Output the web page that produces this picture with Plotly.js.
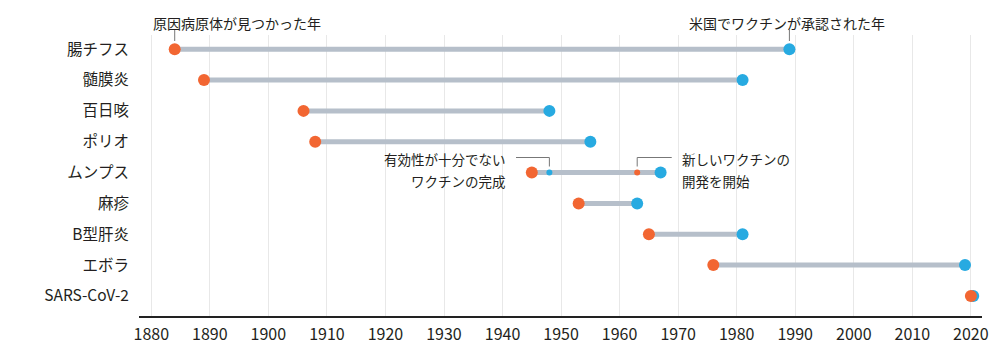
<!DOCTYPE html>
<html><head><meta charset="utf-8">
<script src="https://cdn.plot.ly/plotly-3.0.1.min.js"></script>
<style>body{margin:0;background:#fff}#chart{width:1000px;height:356px}</style>
</head><body><div id="chart"></div>
<script>
const diseases = ['腸チフス','髄膜炎','百日咳','ポリオ','ムンプス','麻疹','B型肝炎','エボラ','SARS-CoV-2'];
const discovered = [1884, 1889, 1906, 1908, 1945, 1953, 1965, 1976, 2020];
const approved = [1989, 1981, 1948, 1955, 1967, 1963, 1981, 2019, 2020.4];
const mumpsExtraOrange = [1963];
const mumpsExtraBlue = [1948];
const xTicks = [1880,1890,1900,1910,1920,1930,1940,1950,1960,1970,1980,1990,2000,2010,2020];

const ORANGE = '#f26632', BLUE = '#27aae1', GREY = '#b6bfca';
const lx = [], ly = [];
diseases.forEach((d,i)=>{ lx.push(discovered[i], approved[i], null); ly.push(d, d, null); });

const traces = [
  {type:'scatter', mode:'lines', x:lx, y:ly, line:{color:GREY, width:5}, hoverinfo:'skip', showlegend:false},
  {type:'scatter', mode:'markers', x:approved, y:diseases, marker:{color:BLUE, size:12}, showlegend:false},
  {type:'scatter', mode:'markers', x:discovered, y:diseases, marker:{color:ORANGE, size:12}, showlegend:false},
  {type:'scatter', mode:'markers', x:mumpsExtraBlue, y:['ムンプス'], marker:{color:BLUE, size:6}, showlegend:false},
  {type:'scatter', mode:'markers', x:mumpsExtraOrange, y:['ムンプス'], marker:{color:ORANGE, size:6}, showlegend:false}
];

const F = 'Noto Sans CJK JP, Noto Sans, sans-serif';
const TXT = '#231f20';
const LC = '#777';
const pY = py => (316 - py) / 281;
const mi = diseases.indexOf('ムンプス');

const annotations = [
  {text:'原因病原体が見つかった年', x:discovered[0], xref:'x', xanchor:'center', xshift:62, y:pY(22.5), yref:'paper', yanchor:'middle', showarrow:false, font:{size:14, color:TXT, family:F}},
  {text:'米国でワクチンが承認された年', x:approved[0], xref:'x', xanchor:'center', xshift:-2, y:pY(22.5), yref:'paper', yanchor:'middle', showarrow:false, font:{size:14, color:TXT, family:F}},
  {text:'有効性が十分でない', x:mumpsExtraBlue[0], xref:'x', xanchor:'right', xshift:-41, y:mi, yref:'y', yshift:14, yanchor:'middle', showarrow:false, font:{size:13.5, color:TXT, family:F}},
  {text:'ワクチンの完成', x:mumpsExtraBlue[0], xref:'x', xanchor:'right', xshift:-41, y:mi, yref:'y', yshift:-8, yanchor:'middle', showarrow:false, font:{size:13.5, color:TXT, family:F}},
  {text:'新しいワクチンの', x:mumpsExtraOrange[0], xref:'x', xanchor:'left', xshift:43, y:mi, yref:'y', yshift:14, yanchor:'middle', showarrow:false, font:{size:13.5, color:TXT, family:F}},
  {text:'開発を開始', x:mumpsExtraOrange[0], xref:'x', xanchor:'left', xshift:43, y:mi, yref:'y', yshift:-8, yanchor:'middle', showarrow:false, font:{size:13.5, color:TXT, family:F}}
];

const shapes = [
  {type:'line', xref:'x', yref:'paper', x0:discovered[0], x1:discovered[0], y0:pY(30), y1:pY(41), line:{color:LC, width:1}},
  {type:'line', xref:'x', yref:'paper', x0:approved[0], x1:approved[0], y0:pY(30), y1:pY(41), line:{color:LC, width:1}},
  {type:'line', xref:'x', yref:'paper', x0:mumpsExtraBlue[0], x1:mumpsExtraBlue[0], y0:pY(157.5), y1:pY(166.5), line:{color:LC, width:1}},
  {type:'line', xref:'x', yref:'paper', x0:mumpsExtraBlue[0], x1:1942.3, y0:pY(157.5), y1:pY(157.5), line:{color:LC, width:1}},
  {type:'line', xref:'x', yref:'paper', x0:mumpsExtraOrange[0], x1:mumpsExtraOrange[0], y0:pY(157.5), y1:pY(166.5), line:{color:LC, width:1}},
  {type:'line', xref:'x', yref:'paper', x0:mumpsExtraOrange[0], x1:1968.9, y0:pY(157.5), y1:pY(157.5), line:{color:LC, width:1}}
];

const layout = {
  width:1000, height:356,
  margin:{l:139, r:18, t:35, b:40},
  paper_bgcolor:'#fff', plot_bgcolor:'#fff',
  font:{family:F, color:TXT},
  xaxis:{range:[1877.9, 2021.9], tickvals:xTicks, ticktext:xTicks.map(String),
    showgrid:true, gridcolor:'#e8e8e8', gridwidth:1, zeroline:false,
    showline:true, linecolor:'#222', linewidth:2,
    ticks:'outside', ticklen:3, tickcolor:'rgba(0,0,0,0)',
    tickfont:{size:16, color:TXT, family:F}, fixedrange:true},
  yaxis:{type:'category', categoryorder:'array', categoryarray:diseases, range:[8.65, -0.46],
    showgrid:false, zeroline:false, showline:false,
    ticks:'outside', ticklen:6, tickcolor:'rgba(0,0,0,0)',
    tickfont:{size:15.5, color:TXT, family:F}, fixedrange:true},
  annotations, shapes, showlegend:false
};
Plotly.newPlot('chart', traces, layout, {staticPlot:true});
</script></body></html>
